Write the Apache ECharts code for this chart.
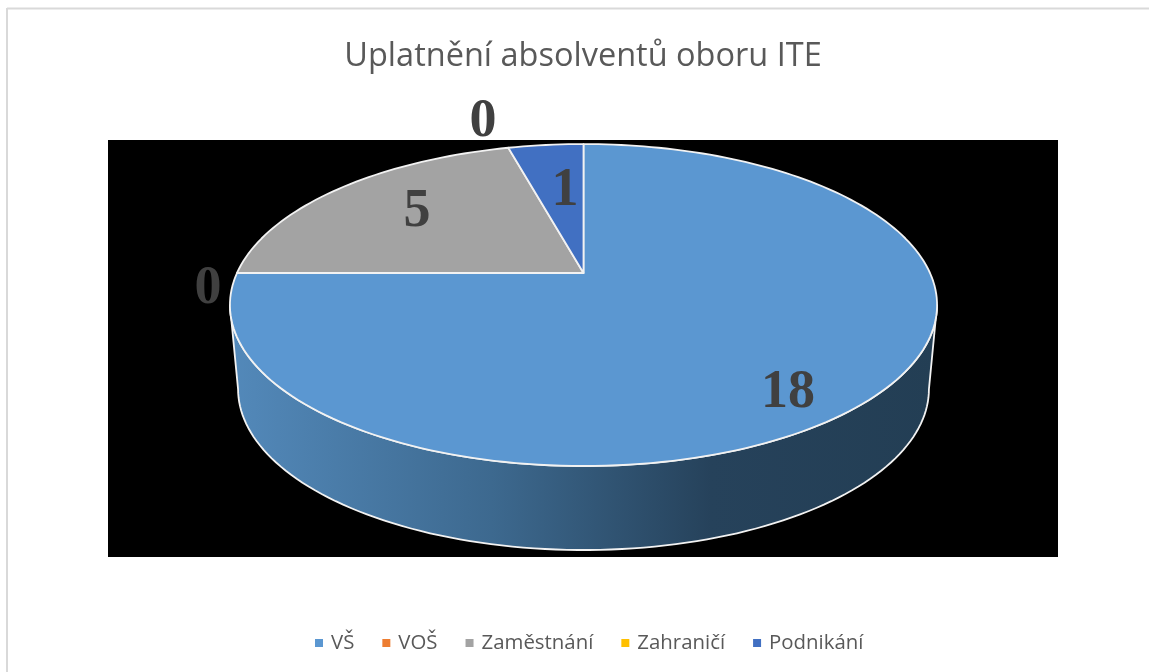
<!DOCTYPE html>
<html>
<head>
<meta charset="utf-8">
<style>
html, body { margin: 0; padding: 0; background: #fff; }
#chart { width: 1149px; height: 672px; }
</style>
<script src="https://cdn.jsdelivr.net/npm/echarts@6/dist/echarts.min.js"></script>
</head>
<body>
<div id="chart"></div>
<script>
const categories = ["VŠ", "VOŠ", "Zaměstnání", "Zahraničí", "Podnikání"];
const values = [18, 0, 5, 0, 1];
const colors = ["#5B97D1", "#ED7D31", "#A3A3A3", "#FFC000", "#4170C2"];
const titleText = "Uplatnění absolventů oboru ITE";

// where Excel left the data labels
const labelPos = [[788, 393], [208, 289], [417, 212], [483, 122], [565, 191]];

// tilted disc: apex is not the ellipse centre, so map through a small perspective
const disc = { cx: 583.5, cy: 273, rx: 346.5, ry: 154.6, k: 0.199, depth: 84, shrink: 0.977 };
const wallFrom = 101.5, wallTo = 258.5;

const total = values.reduce((a, b) => a + b, 0);

let project = (deg, r = 1) => {
    const a = deg * Math.PI / 180;
    const u = Math.sin(a) * r, v = Math.cos(a) * r;
    const w = 1 + disc.k * v;
    return [disc.cx + disc.rx * u / w, disc.cy - disc.ry * v / w];
};

let projectLow = deg => {
    const p = project(deg);
    return [disc.cx + (p[0] - disc.cx) * disc.shrink, p[1] + disc.depth];
};

let arc = (from, to, fn) => {
    const pts = [];
    const n = Math.max(2, Math.ceil((to - from) / 1.5));
    for (let i = 0; i <= n; i++) pts.push(fn(from + (to - from) * i / n));
    return pts;
};

let startOf = i => values.slice(0, i).reduce((a, b) => a + b, 0) / total * 360;

const edge = { stroke: "#F2F2F2", lineWidth: 1.8, lineJoin: "round" };
const wallFill = new echarts.graphic.LinearGradient(230, 0, 937, 0, [
    { offset: 0, color: "#5389BA" },
    { offset: 0.37, color: "#3D698F" },
    { offset: 0.68, color: "#26425B" },
    { offset: 1, color: "#233E54" }
], true);

let renderSlice = i => (params, api) => {
    const v = api.value(0);
    const from = startOf(i), to = from + v / total * 360;
    const children = [];
    const wa = Math.max(from, wallFrom), wb = Math.min(to, wallTo);
    if (v > 0 && wb > wa) {
        const pts = arc(wa, wb, project).concat(arc(wa, wb, projectLow).reverse());
        children.push({ type: "polygon", shape: { points: pts }, style: { fill: wallFill, ...edge } });
    }
    if (v > 0) {
        const pts = [[disc.cx, disc.cy]].concat(arc(from, to, project));
        children.push({ type: "polygon", shape: { points: pts }, style: { fill: colors[i], ...edge } });
    }
    children.push({
        type: "text",
        z2: 10,
        style: {
            x: labelPos[i][0], y: labelPos[i][1],
            text: String(v),
            fill: "#404040",
            font: "bold 54px 'Liberation Serif'",
            align: "center",
            verticalAlign: "middle"
        }
    });
    return { type: "group", children };
};

const chart = echarts.init(document.querySelector("#chart"), null, { renderer: "canvas" });

chart.setOption({
    animation: false,
    backgroundColor: "#fff",
    title: {
        text: titleText,
        left: 578,
        top: 35,
        textAlign: "center",
        textStyle: { fontFamily: "Open Sans", fontSize: 32.5, fontWeight: "normal", color: "#595959" }
    },
    legend: {
        data: categories,
        left: 310,
        top: 628,
        icon: "rect",
        itemWidth: 8,
        itemHeight: 8,
        itemGap: 28,
        textStyle: { fontFamily: "Open Sans", fontSize: 20.4, color: "#595959", padding: [0, 0, 0, 3] },
        selectedMode: false
    },
    graphic: [
        { type: "rect", z: -10, shape: { x: 108, y: 140, width: 950, height: 417 }, style: { fill: "#000" } },
        { type: "line", z: -10, shape: { x1: 7, y1: 8.5, x2: 1149, y2: 8.5 }, style: { stroke: "#D9D9D9", lineWidth: 2 } },
        { type: "line", z: -10, shape: { x1: 7, y1: 8, x2: 7, y2: 672 }, style: { stroke: "#D9D9D9", lineWidth: 2 } }
    ],
    series: categories.map((name, i) => ({
        type: "custom",
        name,
        coordinateSystem: "none",
        silent: true,
        itemStyle: { color: colors[i] },
        data: [[values[i]]],
        renderItem: renderSlice(i)
    }))
});
</script>
</body>
</html>
